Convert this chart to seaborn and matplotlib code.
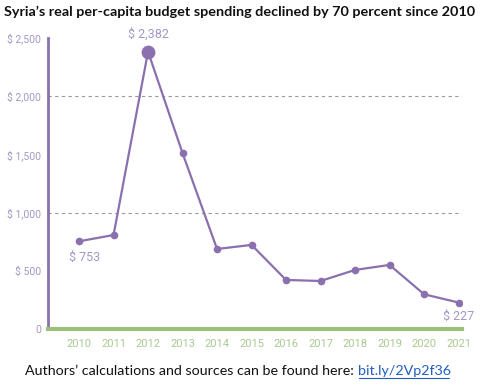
import matplotlib
matplotlib.use('Agg')
import matplotlib.pyplot as plt
import seaborn as sns
import pandas as pd

years = [2010, 2011, 2012, 2013, 2014, 2015, 2016, 2017, 2018, 2019, 2020, 2021]
spending = [753, 807, 2382, 1510, 687, 722, 421, 412, 507, 550, 298, 227]
ytick_vals = [0, 500, 1000, 1500, 2000, 2500]
ytick_labels = ['0', '$ 500', '$ 1,000', '$ 1,500', '$ 2,000', '$ 2,500']

purple = '#8a70ae'
light_purple = '#a497c4'
green = '#9cbf7c'
light_green = '#a9c98f'

df = pd.DataFrame({'year': years, 'spending': spending})

sns.set_style('white')
plt.rcParams['font.family'] = ['Lato', 'DejaVu Sans']

fig = plt.figure(figsize=(4.8, 3.87), dpi=100)
ax = fig.add_axes([0.1, 0.15, 0.8625, 0.752])

# grid lines only at 1,000 and 2,000
for g in [1000, 2000]:
    ax.axhline(g, color='#9a9a9a', linestyle=(0, (3, 3)), linewidth=0.8, zorder=0)

sns.lineplot(data=df, x='year', y='spending', color=purple, linewidth=1.6,
             marker='o', markersize=5.5, markeredgewidth=0, ax=ax)
peak = df[df['year'] == 2012]
ax.scatter(peak['year'], peak['spending'], s=80, color=purple, zorder=5)

ax.set_xlim(2009.1, 2021.1)
ax.set_ylim(0, 2500)
ax.set_xticks(years)
ax.set_xticklabels([str(y) for y in years], color=light_green, fontsize=8,
                   family=['Roboto', 'DejaVu Sans'])
ax.set_yticks(ytick_vals)
ax.set_yticklabels(ytick_labels, color=light_purple, fontsize=7.5,
                   family=['Roboto', 'DejaVu Sans'])
ax.tick_params(axis='x', length=3, width=1, color='white', direction='in', pad=7)
ax.tick_params(axis='y', length=2, width=0.8, color=light_purple, pad=3)
ax.set_xlabel('')
ax.set_ylabel('')

for s in ['top', 'right']:
    ax.spines[s].set_visible(False)
ax.spines['left'].set_color(purple)
ax.spines['left'].set_linewidth(2)
ax.spines['bottom'].set_color(green)
ax.spines['bottom'].set_linewidth(3)

lab_font = ['Roboto', 'DejaVu Sans']
ax.annotate('$ 753', (2010, 753), xytext=(4, -7), textcoords='offset points',
            ha='center', va='top', color=light_purple, fontsize=9, family=lab_font)
ax.annotate('$ 2,382', (2012, 2382), xytext=(0, 8), textcoords='offset points',
            ha='center', va='bottom', color=light_purple, fontsize=9, family=lab_font)
ax.annotate('$ 227', (2021, 227), xytext=(0, -5), textcoords='offset points',
            ha='center', va='top', color=light_purple, fontsize=9, family=lab_font)

fig.text(0.5, 0.985, 'Syria\u2019s real per-capita budget spending declined by 70 percent since 2010',
         ha='center', va='top', fontsize=10.4, fontweight='bold', color='#111111')

fig.text(0.745, 0.03, 'Authors\u2019 calculations and sources can be found here: ',
         ha='right', va='baseline', fontsize=10.3, color='#111111')
fig.text(0.745, 0.03, 'bit.ly/2Vp2f36', ha='left', va='baseline', fontsize=10.3,
         color='#1f5fbf')
fig.add_artist(plt.Line2D([0.748, 0.936], [0.023, 0.023], color='#1f5fbf', linewidth=0.8))

fig.savefig('out.png', dpi=100)
